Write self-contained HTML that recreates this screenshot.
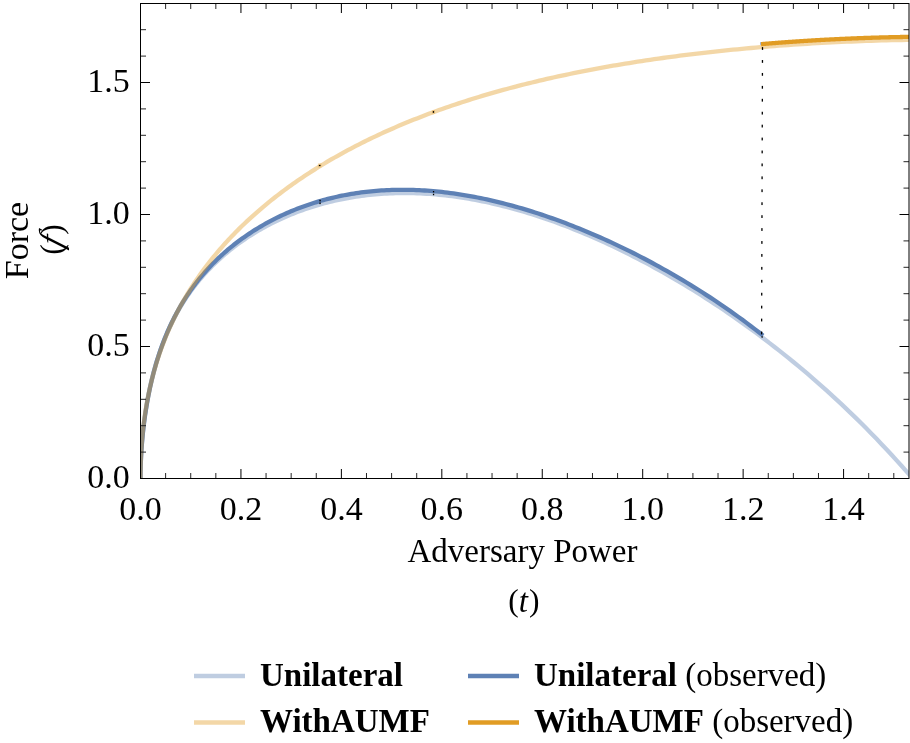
<!DOCTYPE html>
<html><head><meta charset="utf-8"><title>Force vs Adversary Power</title>
<style>html,body{margin:0;padding:0;background:#fff;width:910px;height:743px;overflow:hidden}svg{display:block}</style>
</head><body>
<svg width="910" height="743" viewBox="0 0 910 743">
<rect width="910" height="743" fill="#fff"/>
<defs><clipPath id="c"><rect x="140.5" y="3.5" width="768.5" height="475.0"/></clipPath></defs>
<g clip-path="url(#c)" fill="none" stroke-width="4.3">
<path d="M140.50,478.50 L140.51,475.81 L140.53,473.11 L140.58,470.38 L140.64,467.64 L140.72,464.88 L140.81,462.11 L140.92,459.33 L141.05,456.54 L141.20,453.74 L141.36,450.94 L141.54,448.13 L141.74,445.32 L141.96,442.50 L142.19,439.69 L142.44,436.88 L142.71,434.06 L142.99,431.26 L143.30,428.45 L143.62,425.66 L143.95,422.87 L144.31,420.08 L144.68,417.31 L145.07,414.55 L145.47,411.79 L145.89,409.05 L146.33,406.31 L146.79,403.59 L147.27,400.89 L147.76,398.19 L148.27,395.52 L148.79,392.85 L149.34,390.20 L149.90,387.57 L150.48,384.95 L151.07,382.35 L151.68,379.77 L152.31,377.20 L152.96,374.65 L153.63,372.12 L154.31,369.61 L155.01,367.11 L155.72,364.64 L156.46,362.18 L157.21,359.74 L157.98,357.32 L158.76,354.92 L159.56,352.54 L160.38,350.18 L161.22,347.83 L162.07,345.51 L162.95,343.21 L163.83,340.92 L164.74,338.66 L165.66,336.41 L166.60,334.19 L167.56,331.98 L168.54,329.80 L169.53,327.63 L170.54,325.48 L171.57,323.35 L172.61,321.24 L173.67,319.15 L174.75,317.08 L175.85,315.03 L176.96,312.99 L178.09,310.98 L179.24,308.98 L180.40,307.00 L181.59,305.04 L182.79,303.10 L184.00,301.18 L185.24,299.27 L186.49,297.39 L187.76,295.52 L189.04,293.67 L190.34,291.83 L191.67,290.01 L193.00,288.21 L194.36,286.43 L195.73,284.67 L197.12,282.92 L198.53,281.18 L199.95,279.47 L201.39,277.77 L202.85,276.09 L204.32,274.42 L205.82,272.77 L207.33,271.14 L208.86,269.52 L210.40,267.92 L211.96,266.33 L213.54,264.76 L215.14,263.20 L216.75,261.66 L218.38,260.14 L220.03,258.63 L221.70,257.14 L223.38,255.66 L225.08,254.20 L226.80,252.75 L228.53,251.32 L230.28,249.90 L232.05,248.50 L233.84,247.11 L235.64,245.74 L237.46,244.39 L239.30,243.05 L241.16,241.72 L243.03,240.41 L244.92,239.11 L246.83,237.83 L248.75,236.57 L250.69,235.32 L252.65,234.08 L254.63,232.87 L256.62,231.66 L258.63,230.47 L260.66,229.30 L262.70,228.14 L264.77,227.00 L266.85,225.88 L268.94,224.77 L271.06,223.68 L273.19,222.60 L275.34,221.54 L277.50,220.49 L279.69,219.47 L281.89,218.45 L284.11,217.46 L286.34,216.48 L288.59,215.52 L290.86,214.58 L293.15,213.65 L295.45,212.75 L297.78,211.86 L300.11,210.98 L302.47,210.13 L304.84,209.29 L307.23,208.47 L309.64,207.67 L312.07,206.89 L314.51,206.13 L316.97,205.39 L319.44,204.67 L321.94,203.96 L324.45,203.28 L326.98,202.62 L329.52,201.97 L332.09,201.35 L334.67,200.75 L337.26,200.17 L339.88,199.61 L342.51,199.07 L345.16,198.55 L347.83,198.06 L350.51,197.58 L353.21,197.13 L355.93,196.70 L358.67,196.30 L361.42,195.91 L364.19,195.55 L366.98,195.22 L369.78,194.90 L372.60,194.61 L375.44,194.35 L378.30,194.11 L381.17,193.89 L384.06,193.70 L386.97,193.53 L389.90,193.39 L392.84,193.28 L395.80,193.19 L398.78,193.12 L401.77,193.08 L404.78,193.07 L407.81,193.09 L410.86,193.13 L413.92,193.20 L417.00,193.30 L420.10,193.42 L423.22,193.57 L426.35,193.75 L429.50,193.96 L432.67,194.19 L435.85,194.46 L439.05,194.75 L442.27,195.08 L445.51,195.43 L448.76,195.81 L452.03,196.22 L455.32,196.66 L458.62,197.13 L461.95,197.63 L465.29,198.16 L468.64,198.72 L472.02,199.32 L475.41,199.94 L478.82,200.60 L482.24,201.28 L485.69,202.00 L489.15,202.75 L492.62,203.53 L496.12,204.34 L499.63,205.19 L503.16,206.07 L506.71,206.98 L510.27,207.92 L513.85,208.90 L517.45,209.90 L521.07,210.95 L524.70,212.02 L528.35,213.13 L532.02,214.28 L535.70,215.45 L539.41,216.66 L543.13,217.91 L546.86,219.19 L550.62,220.50 L554.39,221.85 L558.18,223.24 L561.98,224.66 L565.80,226.11 L569.64,227.60 L573.50,229.13 L577.38,230.69 L581.27,232.29 L585.18,233.92 L589.10,235.60 L593.05,237.30 L597.01,239.05 L600.99,240.83 L604.98,242.65 L609.00,244.51 L613.03,246.40 L617.07,248.34 L621.14,250.31 L625.22,252.32 L629.32,254.37 L633.43,256.46 L637.57,258.59 L641.72,260.76 L645.89,262.96 L650.07,265.21 L654.28,267.50 L658.50,269.84 L662.73,272.21 L666.99,274.63 L671.26,277.09 L675.55,279.59 L679.85,282.13 L684.18,284.72 L688.52,287.35 L692.88,290.03 L697.25,292.76 L701.64,295.53 L706.05,298.35 L710.48,301.21 L714.92,304.12 L719.39,307.08 L723.86,310.09 L728.36,313.16 L732.87,316.27 L737.40,319.43 L741.95,322.65 L746.52,325.92 L751.10,329.24 L755.70,332.62 L760.32,336.05 L764.95,339.54 L769.60,343.09 L774.27,346.70 L778.96,350.37 L783.66,354.11 L788.38,357.90 L793.12,361.76 L797.87,365.68 L802.64,369.67 L807.43,373.73 L812.24,377.86 L817.07,382.06 L821.91,386.33 L826.76,390.67 L831.64,395.09 L836.53,399.59 L841.44,404.17 L846.37,408.83 L851.32,413.58 L856.28,418.40 L861.26,423.32 L866.25,428.32 L871.27,433.42 L876.30,438.61 L881.35,443.90 L886.41,449.29 L891.50,454.77 L896.60,460.36 L901.71,466.06 L906.85,471.87 L912.00,477.79" stroke="#5e81b5" stroke-opacity="0.4"/>
<path d="M140.50,478.50 L140.51,476.21 L140.53,473.89 L140.56,471.55 L140.61,469.19 L140.67,466.80 L140.75,464.40 L140.84,461.97 L140.95,459.54 L141.06,457.08 L141.20,454.62 L141.34,452.15 L141.50,449.66 L141.68,447.17 L141.86,444.67 L142.07,442.16 L142.28,439.65 L142.51,437.14 L142.76,434.63 L143.01,432.11 L143.29,429.60 L143.57,427.08 L143.87,424.57 L144.18,422.06 L144.51,419.56 L144.85,417.06 L145.21,414.56 L145.58,412.08 L145.96,409.59 L146.36,407.12 L146.77,404.65 L147.19,402.20 L147.63,399.75 L148.08,397.31 L148.55,394.88 L149.03,392.47 L149.53,390.06 L150.03,387.67 L150.56,385.29 L151.09,382.92 L151.64,380.56 L152.21,378.22 L152.78,375.89 L153.38,373.58 L153.98,371.28 L154.60,368.99 L155.24,366.72 L155.88,364.46 L156.55,362.22 L157.22,359.99 L157.91,357.77 L158.61,355.58 L159.33,353.39 L160.06,351.23 L160.81,349.08 L161.57,346.94 L162.34,344.82 L163.13,342.72 L163.93,340.63 L164.74,338.55 L165.57,336.50 L166.41,334.46 L167.27,332.43 L168.14,330.42 L169.03,328.43 L169.92,326.45 L170.84,324.49 L171.76,322.54 L172.70,320.61 L173.66,318.69 L174.62,316.79 L175.61,314.90 L176.60,313.03 L177.61,311.18 L178.64,309.34 L179.67,307.51 L180.72,305.70 L181.79,303.91 L182.87,302.13 L183.96,300.36 L185.07,298.61 L186.19,296.87 L187.33,295.15 L188.48,293.44 L189.64,291.75 L190.82,290.07 L192.01,288.40 L193.21,286.75 L194.43,285.11 L195.66,283.49 L196.91,281.88 L198.17,280.28 L199.44,278.69 L200.73,277.12 L202.04,275.57 L203.35,274.02 L204.68,272.49 L206.03,270.97 L207.38,269.47 L208.76,267.98 L210.14,266.50 L211.54,265.03 L212.95,263.58 L214.38,262.14 L215.82,260.71 L217.28,259.30 L218.75,257.89 L220.23,256.50 L221.73,255.12 L223.24,253.76 L224.77,252.41 L226.31,251.07 L227.86,249.74 L229.42,248.42 L231.01,247.12 L232.60,245.83 L234.21,244.55 L235.83,243.29 L237.47,242.03 L239.12,240.79 L240.78,239.56 L242.46,238.35 L244.15,237.14 L245.86,235.95 L247.58,234.77 L249.31,233.61 L251.06,232.46 L252.82,231.32 L254.60,230.19 L256.39,229.07 L258.19,227.97 L260.01,226.88 L261.84,225.81 L263.69,224.75 L265.55,223.70 L267.42,222.66 L269.31,221.64 L271.21,220.63 L273.12,219.64 L275.05,218.66 L277.00,217.69 L278.95,216.73 L280.92,215.80 L282.91,214.87 L284.91,213.96 L286.92,213.06 L288.95,212.18 L290.99,211.31 L293.04,210.46 L295.11,209.62 L297.19,208.80 L299.29,207.99 L301.40,207.20 L303.52,206.42 L305.66,205.66 L307.81,204.92 L309.98,204.19 L312.16,203.48 L314.35,202.78 L316.56,202.10 L318.78,201.43 L321.02,200.79 L323.27,200.16 L325.53,199.54 L327.81,198.95 L330.10,198.37 L332.40,197.80 L334.72,197.26 L337.06,196.73 L339.40,196.22 L341.76,195.73 L344.14,195.26 L346.53,194.81 L348.93,194.37 L351.35,193.96 L353.78,193.56 L356.22,193.18 L358.68,192.82 L361.15,192.48 L363.64,192.16 L366.14,191.86 L368.65,191.58 L371.18,191.31 L373.72,191.07 L376.28,190.85 L378.85,190.65 L381.43,190.47 L384.03,190.31 L386.64,190.17 L389.27,190.06 L391.91,189.96 L394.56,189.88 L397.23,189.83 L399.91,189.80 L402.60,189.79 L405.31,189.80 L408.03,189.83 L410.77,189.89 L413.52,189.97 L416.29,190.06 L419.07,190.19 L421.86,190.33 L424.66,190.50 L427.48,190.69 L430.32,190.90 L433.17,191.14 L436.03,191.40 L438.91,191.68 L441.80,191.98 L444.70,192.31 L447.62,192.67 L450.55,193.04 L453.50,193.44 L456.46,193.87 L459.43,194.31 L462.42,194.78 L465.42,195.28 L468.43,195.80 L471.46,196.34 L474.51,196.91 L477.56,197.51 L480.63,198.12 L483.72,198.77 L486.82,199.43 L489.93,200.12 L493.06,200.84 L496.20,201.58 L499.35,202.35 L502.52,203.14 L505.71,203.96 L508.90,204.80 L512.11,205.67 L515.34,206.56 L518.58,207.48 L521.83,208.43 L525.09,209.40 L528.37,210.39 L531.67,211.42 L534.98,212.46 L538.30,213.54 L541.63,214.64 L544.98,215.77 L548.35,216.92 L551.72,218.10 L555.12,219.31 L558.52,220.55 L561.94,221.81 L565.37,223.10 L568.82,224.41 L572.28,225.76 L575.76,227.13 L579.25,228.53 L582.75,229.96 L586.27,231.41 L589.80,232.90 L593.34,234.41 L596.90,235.95 L600.47,237.53 L604.06,239.13 L607.66,240.76 L611.28,242.42 L614.90,244.11 L618.55,245.83 L622.20,247.58 L625.87,249.37 L629.56,251.18 L633.25,253.03 L636.97,254.91 L640.69,256.82 L644.43,258.77 L648.18,260.75 L651.95,262.76 L655.73,264.81 L659.53,266.89 L663.34,269.01 L667.16,271.16 L671.00,273.35 L674.85,275.58 L678.72,277.85 L682.59,280.15 L686.49,282.49 L690.39,284.88 L694.32,287.30 L698.25,289.76 L702.20,292.27 L706.16,294.82 L710.14,297.42 L714.13,300.05 L718.13,302.74 L722.15,305.47 L726.18,308.25 L730.23,311.07 L734.29,313.95 L738.36,316.88 L742.45,319.86 L746.55,322.89 L750.67,325.98 L754.80,329.12 L758.94,332.32 L763.10,335.58" stroke="#5e81b5"/>
<path d="M140.50,478.50 L140.51,475.53 L140.53,472.58 L140.58,469.65 L140.64,466.72 L140.72,463.82 L140.81,460.92 L140.92,458.04 L141.05,455.17 L141.20,452.32 L141.36,449.48 L141.54,446.66 L141.74,443.85 L141.96,441.05 L142.19,438.27 L142.44,435.50 L142.71,432.74 L142.99,430.00 L143.30,427.27 L143.62,424.56 L143.95,421.86 L144.31,419.17 L144.68,416.49 L145.07,413.83 L145.47,411.18 L145.89,408.54 L146.33,405.92 L146.79,403.31 L147.27,400.71 L147.76,398.12 L148.27,395.55 L148.79,392.99 L149.34,390.44 L149.90,387.90 L150.48,385.38 L151.07,382.87 L151.68,380.37 L152.31,377.88 L152.96,375.40 L153.63,372.94 L154.31,370.49 L155.01,368.05 L155.72,365.62 L156.46,363.20 L157.21,360.79 L157.98,358.39 L158.76,356.01 L159.56,353.63 L160.38,351.27 L161.22,348.92 L162.07,346.58 L162.95,344.25 L163.83,341.93 L164.74,339.62 L165.66,337.32 L166.60,335.03 L167.56,332.75 L168.54,330.48 L169.53,328.22 L170.54,325.97 L171.57,323.74 L172.61,321.51 L173.67,319.29 L174.75,317.08 L175.85,314.88 L176.96,312.69 L178.09,310.51 L179.24,308.34 L180.40,306.18 L181.59,304.02 L182.79,301.88 L184.00,299.75 L185.24,297.62 L186.49,295.51 L187.76,293.40 L189.04,291.30 L190.34,289.21 L191.67,287.13 L193.00,285.06 L194.36,283.00 L195.73,280.95 L197.12,278.90 L198.53,276.86 L199.95,274.84 L201.39,272.82 L202.85,270.81 L204.32,268.80 L205.82,266.81 L207.33,264.82 L208.86,262.85 L210.40,260.88 L211.96,258.92 L213.54,256.96 L215.14,255.02 L216.75,253.08 L218.38,251.15 L220.03,249.23 L221.70,247.32 L223.38,245.42 L225.08,243.52 L226.80,241.63 L228.53,239.76 L230.28,237.88 L232.05,236.02 L233.84,234.16 L235.64,232.32 L237.46,230.48 L239.30,228.64 L241.16,226.82 L243.03,225.01 L244.92,223.20 L246.83,221.40 L248.75,219.61 L250.69,217.82 L252.65,216.05 L254.63,214.28 L256.62,212.52 L258.63,210.76 L260.66,209.02 L262.70,207.28 L264.77,205.56 L266.85,203.84 L268.94,202.12 L271.06,200.42 L273.19,198.72 L275.34,197.03 L277.50,195.35 L279.69,193.68 L281.89,192.02 L284.11,190.36 L286.34,188.71 L288.59,187.07 L290.86,185.44 L293.15,183.82 L295.45,182.20 L297.78,180.60 L300.11,179.00 L302.47,177.41 L304.84,175.83 L307.23,174.25 L309.64,172.69 L312.07,171.13 L314.51,169.58 L316.97,168.04 L319.44,166.51 L321.94,164.98 L324.45,163.47 L326.98,161.96 L329.52,160.46 L332.09,158.97 L334.67,157.49 L337.26,156.02 L339.88,154.56 L342.51,153.10 L345.16,151.65 L347.83,150.22 L350.51,148.79 L353.21,147.37 L355.93,145.96 L358.67,144.55 L361.42,143.16 L364.19,141.77 L366.98,140.40 L369.78,139.03 L372.60,137.67 L375.44,136.32 L378.30,134.98 L381.17,133.65 L384.06,132.33 L386.97,131.02 L389.90,129.71 L392.84,128.42 L395.80,127.13 L398.78,125.85 L401.77,124.59 L404.78,123.33 L407.81,122.08 L410.86,120.84 L413.92,119.61 L417.00,118.39 L420.10,117.18 L423.22,115.97 L426.35,114.78 L429.50,113.60 L432.67,112.42 L435.85,111.26 L439.05,110.10 L442.27,108.95 L445.51,107.82 L448.76,106.69 L452.03,105.57 L455.32,104.46 L458.62,103.36 L461.95,102.27 L465.29,101.19 L468.64,100.12 L472.02,99.06 L475.41,98.01 L478.82,96.96 L482.24,95.93 L485.69,94.91 L489.15,93.89 L492.62,92.89 L496.12,91.89 L499.63,90.91 L503.16,89.93 L506.71,88.97 L510.27,88.01 L513.85,87.06 L517.45,86.12 L521.07,85.20 L524.70,84.28 L528.35,83.37 L532.02,82.47 L535.70,81.58 L539.41,80.70 L543.13,79.82 L546.86,78.96 L550.62,78.11 L554.39,77.27 L558.18,76.43 L561.98,75.61 L565.80,74.79 L569.64,73.99 L573.50,73.19 L577.38,72.40 L581.27,71.63 L585.18,70.86 L589.10,70.10 L593.05,69.35 L597.01,68.61 L600.99,67.88 L604.98,67.15 L609.00,66.44 L613.03,65.74 L617.07,65.04 L621.14,64.36 L625.22,63.68 L629.32,63.01 L633.43,62.36 L637.57,61.71 L641.72,61.07 L645.89,60.44 L650.07,59.81 L654.28,59.20 L658.50,58.60 L662.73,58.00 L666.99,57.42 L671.26,56.84 L675.55,56.28 L679.85,55.72 L684.18,55.17 L688.52,54.63 L692.88,54.10 L697.25,53.57 L701.64,53.06 L706.05,52.56 L710.48,52.06 L714.92,51.57 L719.39,51.10 L723.86,50.63 L728.36,50.17 L732.87,49.72 L737.40,49.28 L741.95,48.85 L746.52,48.42 L751.10,48.01 L755.70,47.60 L760.32,47.21 L764.95,46.82 L769.60,46.45 L774.27,46.08 L778.96,45.72 L783.66,45.37 L788.38,45.03 L793.12,44.70 L797.87,44.38 L802.64,44.07 L807.43,43.77 L812.24,43.47 L817.07,43.19 L821.91,42.92 L826.76,42.66 L831.64,42.41 L836.53,42.16 L841.44,41.93 L846.37,41.71 L851.32,41.50 L856.28,41.30 L861.26,41.11 L866.25,40.93 L871.27,40.76 L876.30,40.60 L881.35,40.46 L886.41,40.32 L891.50,40.20 L896.60,40.09 L901.71,39.99 L906.85,39.90 L912.00,39.83" stroke="#e19c24" stroke-opacity="0.4"/>
<path d="M761.00,44.15 L761.48,44.11 L761.96,44.07 L762.43,44.03 L762.91,43.99 L763.39,43.95 L763.87,43.91 L764.35,43.87 L764.83,43.83 L765.31,43.79 L765.78,43.75 L766.26,43.72 L766.74,43.68 L767.22,43.64 L767.70,43.60 L768.18,43.56 L768.66,43.52 L769.14,43.48 L769.63,43.44 L770.11,43.41 L770.59,43.37 L771.07,43.33 L771.55,43.29 L772.03,43.25 L772.51,43.21 L773.00,43.18 L773.48,43.14 L773.96,43.10 L774.44,43.06 L774.93,43.03 L775.41,42.99 L775.89,42.95 L776.38,42.92 L776.86,42.88 L777.34,42.84 L777.83,42.80 L778.31,42.77 L778.79,42.73 L779.28,42.69 L779.76,42.66 L780.25,42.62 L780.73,42.59 L781.22,42.55 L781.70,42.51 L782.19,42.48 L782.68,42.44 L783.16,42.41 L783.65,42.37 L784.13,42.34 L784.62,42.30 L785.11,42.26 L785.59,42.23 L786.08,42.19 L786.57,42.16 L787.06,42.12 L787.54,42.09 L788.03,42.05 L788.52,42.02 L789.01,41.99 L789.49,41.95 L789.98,41.92 L790.47,41.88 L790.96,41.85 L791.45,41.81 L791.94,41.78 L792.43,41.75 L792.92,41.71 L793.41,41.68 L793.90,41.65 L794.39,41.61 L794.88,41.58 L795.37,41.55 L795.86,41.51 L796.35,41.48 L796.84,41.45 L797.33,41.41 L797.82,41.38 L798.32,41.35 L798.81,41.32 L799.30,41.28 L799.79,41.25 L800.28,41.22 L800.78,41.19 L801.27,41.16 L801.76,41.12 L802.26,41.09 L802.75,41.06 L803.24,41.03 L803.74,41.00 L804.23,40.97 L804.72,40.94 L805.22,40.90 L805.71,40.87 L806.21,40.84 L806.70,40.81 L807.20,40.78 L807.69,40.75 L808.19,40.72 L808.68,40.69 L809.18,40.66 L809.67,40.63 L810.17,40.60 L810.67,40.57 L811.16,40.54 L811.66,40.51 L812.16,40.48 L812.65,40.45 L813.15,40.42 L813.65,40.39 L814.14,40.36 L814.64,40.33 L815.14,40.30 L815.64,40.27 L816.14,40.25 L816.63,40.22 L817.13,40.19 L817.63,40.16 L818.13,40.13 L818.63,40.10 L819.13,40.08 L819.63,40.05 L820.13,40.02 L820.63,39.99 L821.13,39.96 L821.63,39.94 L822.13,39.91 L822.63,39.88 L823.13,39.85 L823.63,39.83 L824.13,39.80 L824.63,39.77 L825.14,39.74 L825.64,39.72 L826.14,39.69 L826.64,39.66 L827.14,39.64 L827.65,39.61 L828.15,39.59 L828.65,39.56 L829.15,39.53 L829.66,39.51 L830.16,39.48 L830.66,39.46 L831.17,39.43 L831.67,39.40 L832.18,39.38 L832.68,39.35 L833.18,39.33 L833.69,39.30 L834.19,39.28 L834.70,39.25 L835.20,39.23 L835.71,39.20 L836.22,39.18 L836.72,39.15 L837.23,39.13 L837.73,39.11 L838.24,39.08 L838.75,39.06 L839.25,39.03 L839.76,39.01 L840.27,38.99 L840.77,38.96 L841.28,38.94 L841.79,38.92 L842.30,38.89 L842.80,38.87 L843.31,38.85 L843.82,38.82 L844.33,38.80 L844.84,38.78 L845.35,38.76 L845.86,38.73 L846.37,38.71 L846.87,38.69 L847.38,38.67 L847.89,38.64 L848.40,38.62 L848.91,38.60 L849.42,38.58 L849.93,38.56 L850.45,38.54 L850.96,38.51 L851.47,38.49 L851.98,38.47 L852.49,38.45 L853.00,38.43 L853.51,38.41 L854.03,38.39 L854.54,38.37 L855.05,38.35 L855.56,38.33 L856.08,38.31 L856.59,38.29 L857.10,38.27 L857.61,38.25 L858.13,38.23 L858.64,38.21 L859.16,38.19 L859.67,38.17 L860.18,38.15 L860.70,38.13 L861.21,38.11 L861.73,38.09 L862.24,38.07 L862.76,38.05 L863.27,38.04 L863.79,38.02 L864.30,38.00 L864.82,37.98 L865.34,37.96 L865.85,37.94 L866.37,37.93 L866.89,37.91 L867.40,37.89 L867.92,37.87 L868.44,37.86 L868.95,37.84 L869.47,37.82 L869.99,37.80 L870.51,37.79 L871.02,37.77 L871.54,37.75 L872.06,37.74 L872.58,37.72 L873.10,37.70 L873.62,37.69 L874.14,37.67 L874.66,37.65 L875.18,37.64 L875.70,37.62 L876.22,37.61 L876.74,37.59 L877.26,37.58 L877.78,37.56 L878.30,37.55 L878.82,37.53 L879.34,37.52 L879.86,37.50 L880.38,37.49 L880.90,37.47 L881.42,37.46 L881.95,37.44 L882.47,37.43 L882.99,37.41 L883.51,37.40 L884.04,37.39 L884.56,37.37 L885.08,37.36 L885.61,37.35 L886.13,37.33 L886.65,37.32 L887.18,37.31 L887.70,37.29 L888.22,37.28 L888.75,37.27 L889.27,37.25 L889.80,37.24 L890.32,37.23 L890.85,37.22 L891.37,37.20 L891.90,37.19 L892.42,37.18 L892.95,37.17 L893.48,37.16 L894.00,37.15 L894.53,37.13 L895.05,37.12 L895.58,37.11 L896.11,37.10 L896.64,37.09 L897.16,37.08 L897.69,37.07 L898.22,37.06 L898.75,37.05 L899.27,37.04 L899.80,37.03 L900.33,37.02 L900.86,37.01 L901.39,37.00 L901.92,36.99 L902.44,36.98 L902.97,36.97 L903.50,36.96 L904.03,36.95 L904.56,36.94 L905.09,36.93 L905.62,36.92 L906.15,36.92 L906.68,36.91 L907.22,36.90 L907.75,36.89 L908.28,36.88 L908.81,36.87 L909.34,36.87 L909.87,36.86 L910.40,36.85 L910.94,36.84 L911.47,36.84 L912.00,36.83" stroke="#e19c24"/>
<g fill="#000" stroke="none"><rect x="761.85" y="47.10" width="1.3" height="2.8"/><rect x="761.81" y="60.03" width="1.3" height="2.8"/><rect x="761.77" y="72.96" width="1.3" height="2.8"/><rect x="761.73" y="85.89" width="1.3" height="2.8"/><rect x="761.69" y="98.82" width="1.3" height="2.8"/><rect x="761.65" y="111.75" width="1.3" height="2.8"/><rect x="761.60" y="124.68" width="1.3" height="2.8"/><rect x="761.56" y="137.61" width="1.3" height="2.8"/><rect x="761.52" y="150.54" width="1.3" height="2.8"/><rect x="761.48" y="163.47" width="1.3" height="2.8"/><rect x="761.44" y="176.40" width="1.3" height="2.8"/><rect x="761.40" y="189.33" width="1.3" height="2.8"/><rect x="761.36" y="202.26" width="1.3" height="2.8"/><rect x="761.32" y="215.19" width="1.3" height="2.8"/><rect x="761.28" y="228.12" width="1.3" height="2.8"/><rect x="761.24" y="241.05" width="1.3" height="2.8"/><rect x="761.20" y="253.98" width="1.3" height="2.8"/><rect x="761.15" y="266.91" width="1.3" height="2.8"/><rect x="761.11" y="279.84" width="1.3" height="2.8"/><rect x="761.07" y="292.77" width="1.3" height="2.8"/><rect x="761.03" y="305.70" width="1.3" height="2.8"/><rect x="760.99" y="318.63" width="1.3" height="2.8"/><rect x="760.95" y="331.56" width="1.3" height="2.8"/><rect x="761.5" y="336.1" width="1.3" height="1.7" fill="#222"/><rect x="319.4" y="199.8" width="1.3" height="1.6"/><rect x="319.4" y="202.5" width="1.3" height="1.6"/><rect x="432.9" y="191.0" width="1.3" height="1.4"/><rect x="432.9" y="193.8" width="1.3" height="1.4"/><rect x="317.9" y="163.3" width="3.6" height="4.2" fill="#e19c24" fill-opacity="0.3"/><rect x="431.8" y="110.0" width="3.2" height="3.7" fill="#e19c24" fill-opacity="0.3"/><rect x="318.9" y="164.9" width="1.6" height="1.2"/><rect x="432.8" y="111.1" width="1.3" height="1.7"/><rect x="760.2" y="42.2" width="0.8" height="2.7" fill="#8aa8d8"/></g>
</g>
<path d="M140.500,478.5V469.00M140.500,3.5V13.00M240.940,478.5V469.00M240.940,3.5V13.00M341.380,478.5V469.00M341.380,3.5V13.00M441.820,478.5V469.00M441.820,3.5V13.00M542.260,478.5V469.00M542.260,3.5V13.00M642.700,478.5V469.00M642.700,3.5V13.00M743.140,478.5V469.00M743.140,3.5V13.00M843.580,478.5V469.00M843.580,3.5V13.00M140.5,478.500H150.00M909.0,478.500H899.50M140.5,346.500H150.00M909.0,346.500H899.50M140.5,214.500H150.00M909.0,214.500H899.50M140.5,82.500H150.00M909.0,82.500H899.50" stroke="#000" stroke-width="1" fill="none"/>
<path d="M165.610,478.5V473.00M165.610,3.5V9.00M190.720,478.5V473.00M190.720,3.5V9.00M215.830,478.5V473.00M215.830,3.5V9.00M266.050,478.5V473.00M266.050,3.5V9.00M291.160,478.5V473.00M291.160,3.5V9.00M316.270,478.5V473.00M316.270,3.5V9.00M366.490,478.5V473.00M366.490,3.5V9.00M391.600,478.5V473.00M391.600,3.5V9.00M416.710,478.5V473.00M416.710,3.5V9.00M466.930,478.5V473.00M466.930,3.5V9.00M492.040,478.5V473.00M492.040,3.5V9.00M517.150,478.5V473.00M517.150,3.5V9.00M567.370,478.5V473.00M567.370,3.5V9.00M592.480,478.5V473.00M592.480,3.5V9.00M617.590,478.5V473.00M617.590,3.5V9.00M667.810,478.5V473.00M667.810,3.5V9.00M692.920,478.5V473.00M692.920,3.5V9.00M718.030,478.5V473.00M718.030,3.5V9.00M768.250,478.5V473.00M768.250,3.5V9.00M793.360,478.5V473.00M793.360,3.5V9.00M818.470,478.5V473.00M818.470,3.5V9.00M868.690,478.5V473.00M868.690,3.5V9.00M893.800,478.5V473.00M893.800,3.5V9.00M140.5,452.100H146.00M909.0,452.100H903.50M140.5,425.700H146.00M909.0,425.700H903.50M140.5,399.300H146.00M909.0,399.300H903.50M140.5,372.900H146.00M909.0,372.900H903.50M140.5,320.100H146.00M909.0,320.100H903.50M140.5,293.700H146.00M909.0,293.700H903.50M140.5,267.300H146.00M909.0,267.300H903.50M140.5,240.900H146.00M909.0,240.900H903.50M140.5,188.100H146.00M909.0,188.100H903.50M140.5,161.700H146.00M909.0,161.700H903.50M140.5,135.300H146.00M909.0,135.300H903.50M140.5,108.900H146.00M909.0,108.900H903.50M140.5,56.100H146.00M909.0,56.100H903.50M140.5,29.700H146.00M909.0,29.700H903.50" stroke="#262626" stroke-width="1" fill="none"/>
<rect x="140.5" y="3.5" width="768.5" height="475.0" stroke="#000" stroke-width="1" fill="none"/>
<g font-family="'Liberation Serif', 'Times New Roman', serif" font-size="34" fill="#000">
<g text-anchor="middle"><text x="140.50" y="520">0.0</text><text x="240.94" y="520">0.2</text><text x="341.38" y="520">0.4</text><text x="441.82" y="520">0.6</text><text x="542.26" y="520">0.8</text><text x="642.70" y="520">1.0</text><text x="743.14" y="520">1.2</text><text x="843.58" y="520">1.4</text></g>
<g text-anchor="end"><text x="129.8" y="487.80">0.0</text><text x="129.8" y="355.80">0.5</text><text x="129.8" y="223.80">1.0</text><text x="129.8" y="91.80">1.5</text></g>
<text x="522.5" y="561.5" text-anchor="middle" font-size="33">Adversary Power</text>
<g font-size="33"><text x="508.3" y="610.5" font-size="31.5">(</text><text x="518.8" y="611.5" font-style="italic">t</text><text x="528.9" y="610.5" font-size="31.5">)</text></g>
<text transform="translate(28.3,240.5) rotate(-90)" text-anchor="middle">Force</text>
<g transform="translate(62.3,239.5) rotate(-90)" font-size="33"><text x="-15.3" font-size="31.5">(</text><text transform="translate(-9.0,0) skewX(-18)" font-style="italic">f</text><text x="4.7" font-size="31.5">)</text></g>
</g>
<g stroke-width="4.4">
<line x1="194" y1="676" x2="245" y2="676" stroke="#5e81b5" stroke-opacity="0.4"/>
<line x1="468" y1="676" x2="519" y2="676" stroke="#5e81b5"/>
<line x1="194" y1="722.5" x2="245" y2="722.5" stroke="#e19c24" stroke-opacity="0.4"/>
<line x1="468" y1="722.5" x2="519" y2="722.5" stroke="#e19c24"/>
</g>
<g font-family="'Liberation Serif', 'Times New Roman', serif" font-size="33" fill="#000">
<text x="260" y="686" font-weight="bold">Unilateral</text>
<text x="534" y="686"><tspan font-weight="bold">Unilateral</tspan> (observed)</text>
<text x="260" y="732.2" font-weight="bold">WithAUMF</text>
<text x="534" y="732.2"><tspan font-weight="bold">WithAUMF</tspan> (observed)</text>
</g>
</svg>
</body></html>
